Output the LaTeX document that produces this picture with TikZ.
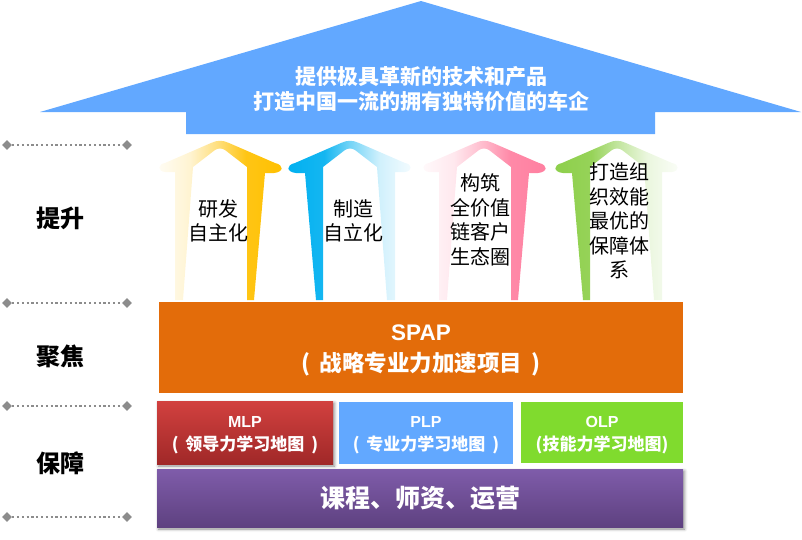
\documentclass[tikz,border=0pt]{standalone}
\usepackage{fontspec}
\setmainfont{Liberation Sans}
\newfontfamily\cjk{Noto Sans CJK SC}
\usetikzlibrary{shapes.geometric,shadows.blur}
\definecolor{bigblue}{HTML}{62A8FF}
\definecolor{spaporange}{HTML}{E36C0A}
\definecolor{olpgreen}{HTML}{80DB2E}
\definecolor{redtop}{HTML}{D2413F}
\definecolor{redbot}{HTML}{A02828}
\definecolor{purtop}{HTML}{7F5CAA}
\definecolor{purbot}{HTML}{5E4180}
\definecolor{dotgray}{HTML}{8C8C8C}
\definecolor{ayel}{HTML}{FFC000}
\definecolor{acyan}{HTML}{00B0F0}
\definecolor{apink}{HTML}{FF7FA0}
\definecolor{agreen}{HTML}{8DCF4A}
\pgfdeclarehorizontalshading{fadeY}{100bp}{color(0bp)=(ayel!4); color(25bp)=(ayel!4); color(38bp)=(ayel!18); color(50bp)=(ayel!55); color(60bp)=(ayel!92); color(75bp)=(ayel); color(100bp)=(ayel)}
\pgfdeclarehorizontalshading{fadeP}{100bp}{color(0bp)=(apink!4); color(25bp)=(apink!4); color(38bp)=(apink!18); color(50bp)=(apink!55); color(60bp)=(apink!92); color(75bp)=(apink); color(100bp)=(apink)}
\pgfdeclarehorizontalshading{fadeC}{100bp}{color(0bp)=(acyan); color(25bp)=(acyan); color(40bp)=(acyan!92); color(50bp)=(acyan!55); color(62bp)=(acyan!18); color(75bp)=(acyan!4); color(100bp)=(acyan!4)}
\pgfdeclarehorizontalshading{fadeG}{100bp}{color(0bp)=(agreen); color(25bp)=(agreen); color(40bp)=(agreen!92); color(50bp)=(agreen!55); color(62bp)=(agreen!18); color(75bp)=(agreen!4); color(100bp)=(agreen!4)}
\def\uparrowpath{(-45,300) -- (-45,172) -- (-55,172) .. controls (-63,171) and (-62,164) .. (-55,163) -- (-9,143) .. controls (-3,140) and (3,140) .. (9,143) -- (55,163) .. controls (64,165) and (64,172) .. (54,173) -- (45,173) -- (34,300) -- (27,300) -- (27,167) -- (5,150) .. controls (2,148) and (-2,148) .. (-5,150) -- (-27,167) -- (-37,300) -- cycle}
\newcommand\lpar{(\kern0.4em}
\newcommand\rpar{\kern0.4em)}
\tikzset{
  atext/.style={font=\cjk\fontsize{20}{24.5}\selectfont, align=center, inner sep=0pt, text=black},
  sidelabel/.style={font=\cjk\bfseries\fontsize{24}{28}\selectfont, inner sep=0pt, text=black},
  dia/.style={diamond, fill=dotgray, minimum width=10pt, minimum height=10pt, inner sep=0pt},
  dotline/.style={dotgray, line width=2.2pt, dash pattern=on 2.2pt off 2.6pt},
  boxnode/.style={inner sep=0pt, align=center, text=white},
  mapfont/.style={font=\bfseries\fontsize{16}{22.5}\selectfont},
  softshadow/.style={blur shadow={shadow xshift=1.5pt, shadow yshift=-2pt, shadow blur radius=3pt, shadow opacity=45}}
}
\begin{document}
\begin{tikzpicture}[x=1pt, y=-1pt]
\useasboundingbox (0,0) rectangle (802,539);

% big arrow
\fill[bigblue] (421,1) -- (801,112) -- (655,112) -- (655,134) -- (186,134) -- (186,112) -- (40,112) -- cycle;
\node[boxnode, font=\cjk\bfseries\fontsize{21}{25}\selectfont] (goal) at (421,89) {提供极具革新的技术和产品\\打造中国一流的拥有独特价值的车企};

% four arrows
\begin{scope}[shift={(220,0)}]
  \shade[shading=fadeY] \uparrowpath;
\end{scope}
\begin{scope}[shift={(350,0)}, xscale=-1]
  \shade[shading=fadeC] \uparrowpath;
\end{scope}
\begin{scope}[shift={(484,0)}]
  \shade[shading=fadeP] \uparrowpath;
\end{scope}
\begin{scope}[shift={(617,0)}, xscale=-1]
  \shade[shading=fadeG] \uparrowpath;
\end{scope}
\node[atext] (a1) at (218,221) {研发\\自主化};
\node[atext] (a2) at (353,221) {制造\\自立化};
\node[atext] (a3) at (480,220) {构筑\\全价值\\链客户\\生态圈};
\node[atext] (a4) at (619,221) {打造组\\织效能\\最优的\\保障体\\系};

% left separators
\foreach \i/\yy in {1/145,2/303,3/406,4/517}{
  \node[dia] (dl\i) at (7,\yy) {};
  \node[dia] (dr\i) at (127,\yy) {};
  \draw[dotline] (dl\i) -- (dr\i);
}
\node[sidelabel] (l1) at (60,218) {提升};
\node[sidelabel] (l2) at (60,356) {聚焦};
\node[sidelabel] (l3) at (60,463) {保障};

% SPAP
\node[boxnode, fill=spaporange, minimum width=524pt, minimum height=91pt, font=\bfseries\fontsize{22.5}{31}\selectfont] (spap) at (421,347.5) {};
\node[boxnode, font=\bfseries\fontsize{22.5}{31}\selectfont] (spaptext) at (421,350) {SPAP\\{\cjk\bfseries \lpar 战略专业力加速项目\rpar}};

% learning maps
\node[boxnode, top color=redtop, bottom color=redbot, softshadow, minimum width=176pt, minimum height=63pt] (mlp) at (245,432.5) {};
\node[boxnode, fill=bigblue, minimum width=174pt, minimum height=62pt] (plp) at (426,433) {};
\node[boxnode, fill=olpgreen, minimum width=162pt, minimum height=61pt] (olp) at (602,432.5) {};
\node[boxnode, mapfont] (mlptext) at (245,435) {MLP\\{\cjk\bfseries\fontsize{17}{22.5}\selectfont \lpar 领导力学习地图\rpar}};
\node[boxnode, mapfont] (plptext) at (426,435) {PLP\\{\cjk\bfseries\fontsize{17}{22.5}\selectfont \lpar 专业力学习地图\rpar}};
\node[boxnode, mapfont] (olptext) at (602,435) {OLP\\{\cjk\bfseries\fontsize{17}{22.5}\selectfont (技能力学习地图)}};

% base
\node[boxnode, top color=purtop, bottom color=purbot, softshadow, minimum width=526pt, minimum height=58pt, font=\cjk\bfseries\fontsize{25}{30}\selectfont] (base) at (420,498) {课程、师资、运营};
\end{tikzpicture}
\end{document}
